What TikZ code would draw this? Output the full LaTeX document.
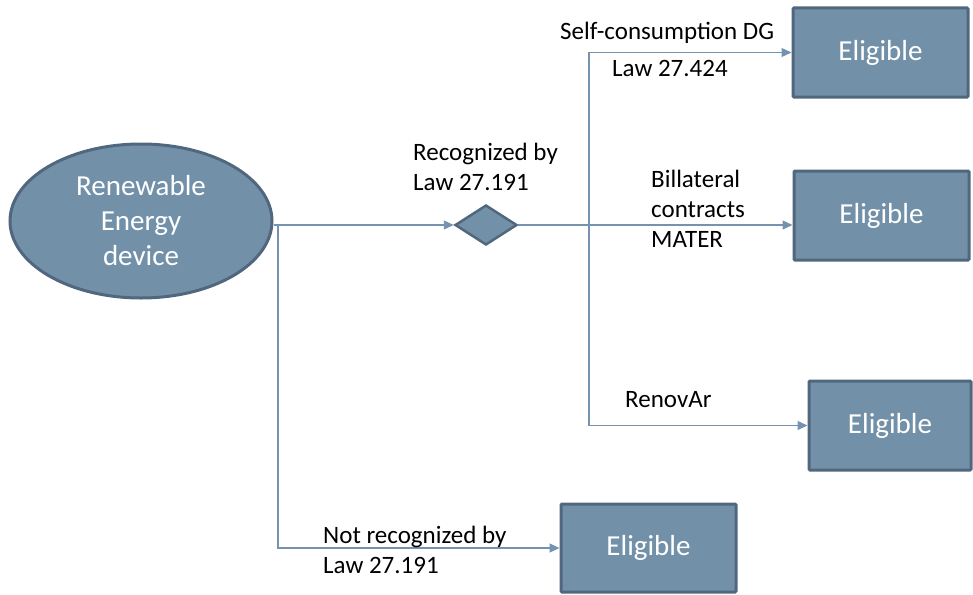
\documentclass[tikz,border=0pt]{standalone}
\usepackage{fontspec}
\setmainfont{Carlito}
\usetikzlibrary{shapes.geometric,arrows.meta}
\definecolor{boxfill}{HTML}{7291A8}
\definecolor{boxline}{HTML}{50677D}
\definecolor{conncol}{HTML}{7593B0}
\tikzset{
  eligbox/.style={draw=boxline, fill=boxfill, line width=3pt, rounded corners=1pt,
    minimum width=175pt, minimum height=89pt, inner sep=0pt, text=white,
    font=\fontsize{29}{35}\selectfont},
  arr/.style={draw=conncol, line width=1.3pt, -{Triangle[length=10pt,width=9pt]}},
  conn/.style={draw=conncol, line width=1.3pt},
  lbl/.style={anchor=west, align=left, inner sep=0pt, font=\fontsize{25}{30}\selectfont},
}
\begin{document}
\begin{tikzpicture}[x=1pt,y=-1pt]
\useasboundingbox (0,0) rectangle (973,594);
\node[ellipse, draw=boxline, fill=boxfill, line width=3pt, minimum width=262pt, minimum height=154pt,
  inner sep=0pt, text=white, align=center, font=\fontsize{29}{35}\selectfont] (e) at (141,221)
  {Renewable\\Energy\\device};
\node[diamond, draw=boxline, fill=boxfill, line width=2.5pt, minimum width=62pt, minimum height=40pt,
  inner sep=0pt, aspect=1.55] (d) at (486,225) {};
\node[eligbox] (b1) at (880.5,52.5) {Eligible};
\node[eligbox] (b2) at (881.5,215.5) {Eligible};
\node[eligbox, minimum width=162pt] (b3) at (890,425.5) {Eligible};
\node[eligbox, minimum height=88pt] (b4) at (648.5,548) {Eligible};
\coordinate (j1) at (278,225);
\coordinate (j2) at (589,225);
\draw[arr] (e.east |- d.west) -- (d.west);
\draw[arr] (j1) |- (b4.west);
\draw[arr] (d.east) -- (d.east -| b2.west);
\draw[arr] (j2) |- (b1.west);
\draw[arr] (j2) |- (b3.west);
\node[lbl] (l1) at (413,167) {Recognized by\\Law 27.191};
\node[lbl] (l2) at (560,33) {Self-consumption DG};
\node[lbl] (l3) at (612,68) {Law 27.424};
\node[lbl] (l4) at (651,209) {Billateral\\contracts\\MATER};
\node[lbl] (l5) at (625,400) {RenovAr};
\node[lbl] (l6) at (323,550) {Not recognized by\\Law 27.191};
\end{tikzpicture}
\end{document}
